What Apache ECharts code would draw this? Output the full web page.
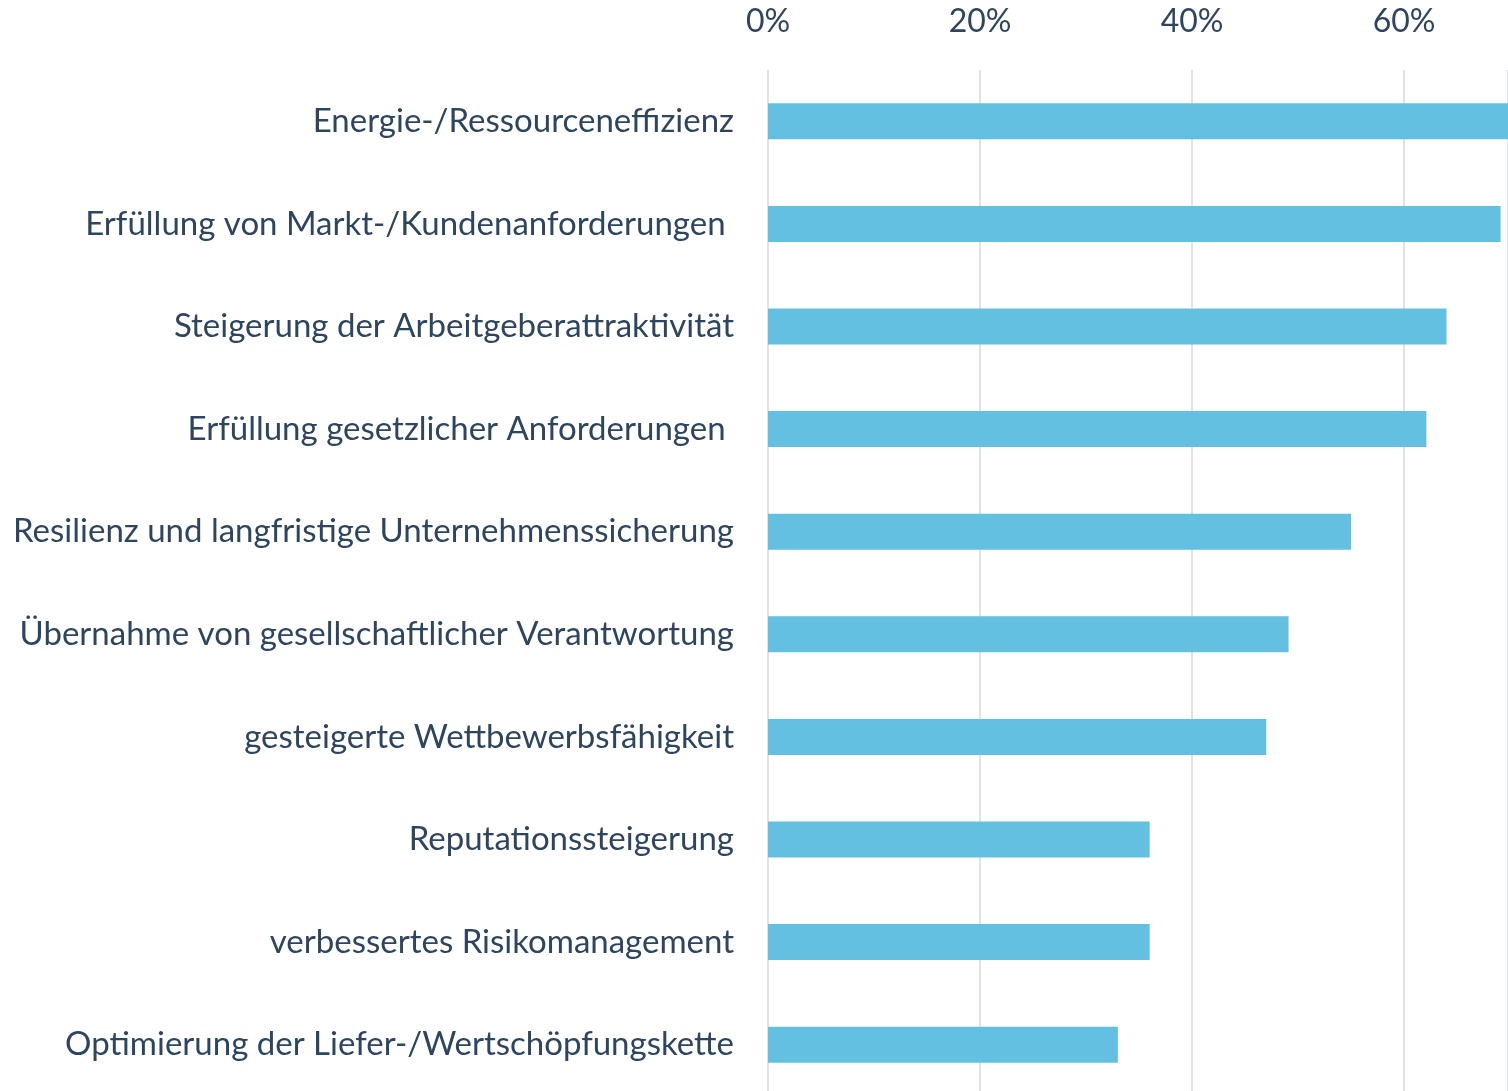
<!DOCTYPE html>
<html>
<head>
<meta charset="utf-8">
<script src="https://cdn.jsdelivr.net/npm/echarts@6/dist/echarts.min.js"></script>
<style>
  html, body { margin: 0; padding: 0; background: #fff; overflow: hidden; }
  #chart01 { width: 1508px; height: 1096px; }
</style>
</head>
<body>
<div id="chart01"></div>
<script>
var categories = [
    'Energie-/Ressourceneffizienz',
    'Erfüllung von Markt-/Kundenanforderungen ',
    'Steigerung der Arbeitgeberattraktivität',
    'Erfüllung gesetzlicher Anforderungen ',
    'Resilienz und langfristige Unternehmenssicherung',
    'Übernahme von gesellschaftlicher Verantwortung',
    'gesteigerte Wettbewerbsfähigkeit',
    'Reputationssteigerung',
    'verbessertes Risikomanagement',
    'Optimierung der Liefer-/Wertschöpfungskette'
];
var values = [70, 69.1, 64, 62.1, 55, 49.1, 47, 36, 36, 33];
var tickValues = [0, 20, 40, 60];

var textColor = '#2e4560';
var myChart = echarts.init(document.getElementById('chart01'));
var option = {
    animation: false,
    grid: {
        left: 768,
        right: 0,
        top: 70,
        bottom: 0
    },
    xAxis: {
        type: 'value',
        position: 'top',
        min: 0,
        max: 69.8,
        interval: 20,
        axisLine: { show: false },
        axisTick: { show: false },
        splitLine: { lineStyle: { color: '#dce3ec', width: 2 } },
        axisLabel: {
            margin: 32,
            color: textColor,
            fontFamily: 'Lato',
            fontSize: 32,
            showMaxLabel: false,
            formatter: function (v) {
                return tickValues.indexOf(v) >= 0 ? v + '%' : '';
            }
        }
    },
    yAxis: {
        type: 'category',
        inverse: true,
        data: categories,
        axisLine: { show: false },
        axisTick: { show: false },
        axisLabel: {
            margin: 34,
            color: textColor,
            fontFamily: 'Lato',
            fontSize: 33,
            padding: [6, 0, 0, 0]
        }
    },
    series: [
        {
            type: 'bar',
            data: values,
            barWidth: 36,
            itemStyle: { color: '#64c0e1' }
        }
    ]
};
myChart.setOption(option, true);
</script>
</body>
</html>
